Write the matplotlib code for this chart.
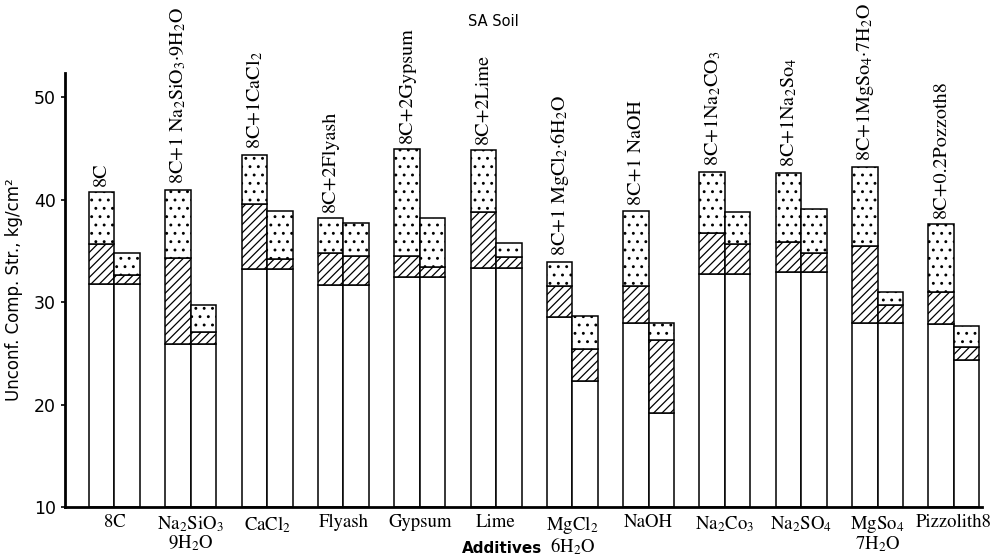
import matplotlib
matplotlib.use('Agg')
import matplotlib.pyplot as plt
import numpy as np

plt.rcParams['mathtext.fontset'] = 'stix'
plt.rcParams['hatch.linewidth'] = 0.9

# additive groups (tick labels under the axis)
additives = ['8C', 'Na$_2$SiO$_3$\n9H$_2$O', 'CaCl$_2$', 'Flyash', 'Gypsum', 'Lime',
             'MgCl$_2$\n6H$_2$O', 'NaOH', 'Na$_2$Co$_3$', 'Na$_2$SO$_4$',
             'MgSo$_4$\n7H$_2$O', 'Pizzolith8']

# labels written above the left bar of each group
mix_labels = ['8C', '8C+1 Na$_2$SiO$_3$·9H$_2$O', '8C+1CaCl$_2$', '8C+2Flyash',
              '8C+2Gypsum', '8C+2Lime', '8C+1 MgCl$_2$·6H$_2$O', '8C+1 NaOH',
              '8C+1Na$_2$CO$_3$', '8C+1Na$_2$So$_4$', '8C+1MgSo$_4$·7H$_2$O',
              '8C+0.2Pozzoth8']

# left bar: top of plain part, top of hatched part, top of dotted part (kg/cm2)
a_plain = [31.8, 25.9, 33.2, 31.7, 32.4, 33.3, 28.5, 28.0, 32.7, 32.9, 28.0, 27.9]
a_hatch = [35.7, 34.3, 39.6, 34.8, 34.5, 38.8, 31.6, 31.6, 36.7, 35.9, 35.5, 31.0]
a_dots = [40.7, 40.9, 44.3, 38.2, 44.9, 44.8, 33.9, 38.9, 42.7, 42.6, 43.2, 37.6]

# right bar
b_plain = [31.8, 25.9, 33.2, 31.7, 32.4, 33.3, 22.3, 19.2, 32.7, 32.9, 28.0, 24.3]
b_hatch = [32.6, 27.1, 34.2, 34.5, 33.4, 34.4, 25.4, 26.3, 35.7, 34.8, 29.7, 25.6]
b_dots = [34.8, 29.7, 38.9, 37.7, 38.2, 35.8, 28.6, 28.0, 38.8, 39.1, 31.0, 27.7]

base = 10
x = np.arange(len(additives))
w = 0.334

fig = plt.figure(figsize=(9.98, 5.6), dpi=100)
ax = fig.add_axes([0.0651, 0.0946, 0.919, 0.775])


def draw_stack(pos, plain, hatch, dots):
    plain = np.array(plain)
    hatch = np.array(hatch)
    dots = np.array(dots)
    ax.bar(pos, plain - base, w, bottom=base, color='white', edgecolor='black', linewidth=1.1)
    ax.bar(pos, hatch - plain, w, bottom=plain, color='white', edgecolor='black',
           hatch='////', linewidth=1.1)
    ax.bar(pos, dots - hatch, w, bottom=hatch, color='white', edgecolor='black',
           hatch='..', linewidth=1.1)


draw_stack(x - w / 2, a_plain, a_hatch, a_dots)
draw_stack(x + w / 2, b_plain, b_hatch, b_dots)

for i, lab in enumerate(mix_labels):
    ax.text(x[i] - w / 2, a_dots[i] + 0.6, lab, rotation=90, ha='center', va='bottom',
            fontsize=14.5, family='STIXGeneral')

ax.set_xlim(-0.649, 11.37)
ax.set_ylim(10, 52.34)
ax.set_yticks([10, 20, 30, 40, 50])
ax.tick_params(axis='y', labelsize=12.5, length=3, width=1.2)
ax.set_xticks(x)
ax.set_xticklabels(additives, family='STIXGeneral', fontsize=13.5, linespacing=0.95)
ax.tick_params(axis='x', length=0, pad=5)
for s in ['top', 'right']:
    ax.spines[s].set_visible(False)
ax.spines['left'].set_linewidth(2)
ax.spines['bottom'].set_linewidth(2)

ax.set_ylabel('Unconf. Comp. Str., kg/cm²', fontsize=12, labelpad=8)
fig.text(0.503, 0.008, 'Additives', ha='center', va='bottom', fontsize=11, fontweight='bold')
fig.text(0.494, 0.962, 'SA Soil', ha='center', va='center', fontsize=10.5)

fig.savefig('out.png', dpi=100)
